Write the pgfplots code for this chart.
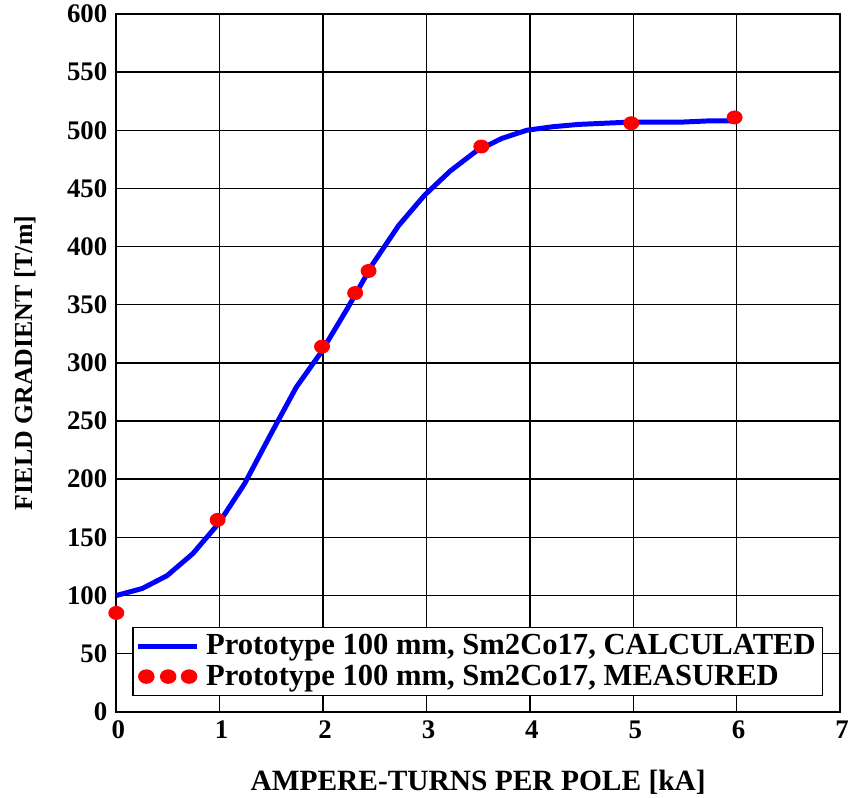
\documentclass[border=0pt]{standalone}
\usepackage{fontspec}
\setmainfont{Liberation Serif}
\usepackage{pgfplots}
\pgfplotsset{compat=1.18}

\begin{document}
\begin{tikzpicture}
\begin{axis}[
    scale only axis,
    width=364pt, height=351pt,
    xmin=0, xmax=7, ymin=0, ymax=600,
    xtick={0,1,...,7}, ytick={0,50,...,600},
    grid=major,
    major grid style={black, line width=0.7pt},
    axis line style={black, line width=1.1pt},
    major tick length=0pt,
    /pgf/number format/assume math mode=true,
    ticklabel style={font=\fontsize{13.5}{15}\selectfont\bfseries},
    xticklabel style={yshift=-1pt, xshift=1pt},
    yticklabel style={xshift=-1pt},
    xlabel={AMPERE-TURNS PER POLE [kA]},
    ylabel={FIELD GRADIENT [T/m]},
    xlabel style={font=\fontsize{14.8}{16}\selectfont\bfseries,
        at={(axis description cs:0.5,-0.101)}, anchor=center},
    ylabel style={font=\fontsize{13}{15}\selectfont\bfseries,
        at={(axis description cs:-0.126,0.5)}, anchor=center},
    legend style={at={(8pt,8pt)}, anchor=south west, draw=black, line width=0.7pt,
        fill=white, font=\fontsize{15.4}{17}\selectfont\bfseries,
        row sep=-0.5pt, inner sep=1.5pt, cells={anchor=west}},
    legend cell align=left,
]
\addplot[blue, line width=2.5pt,
    legend image code/.code={\draw[blue, line width=2.5pt] (0pt,0pt) -- (29.5pt,0pt);
        \path[draw=none, fill=none] (32pt,0pt) circle (0.1pt);}] coordinates {
    (0,100) (0.25,106) (0.49,117) (0.74,136) (0.99,162) (1.24,196)
    (1.49,238) (1.74,279) (1.98,309) (2.23,346) (2.48,385) (2.73,418)
    (2.98,444) (3.23,465) (3.48,482) (3.73,493) (3.97,500) (4.22,503)
    (4.47,505) (4.72,506) (4.97,507) (5.22,507) (5.47,507) (5.72,508) (5.97,508)
};
\addlegendentry{Prototype 100 mm, Sm2Co17, CALCULATED}
\addplot[only marks, mark=*, red, mark size=3.3pt, mark options={xscale=1.15, draw=red, fill=red},
    legend image code/.code={
        \foreach \xx in {4pt,15pt,25.5pt} {\fill[red] (\xx,0pt) ellipse (3.8pt and 3.3pt);}
        \path[draw=none, fill=none] (32pt,0pt) circle (0.1pt);
    }] coordinates {
    (0,85) (0.98,165) (1.99,314) (2.31,360) (2.44,379) (3.53,486) (4.98,506) (5.98,511)
};
\addlegendentry{Prototype 100 mm, Sm2Co17, MEASURED}
\end{axis}
\pgfresetboundingbox
\useasboundingbox ([shift={(-58.5pt,-43pt)}]current axis.south west) rectangle ([shift={(5pt,7pt)}]current axis.north east);
\end{tikzpicture}
\end{document}
